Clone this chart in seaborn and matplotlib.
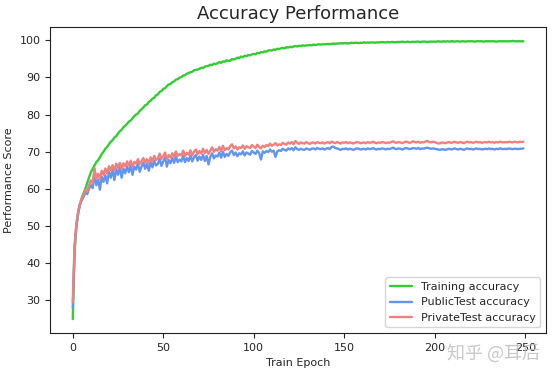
import numpy as np
import matplotlib
matplotlib.use("Agg")
import matplotlib.pyplot as plt
import seaborn as sns

# accuracy per epoch
training_acc = [
    25.0, 43.2, 49.8, 53.6, 55.9, 57.6, 58.9, 60.1, 61.6, 63.1,
    64.5, 65.4, 66.3, 67.2, 67.7, 68.5, 69.4, 70.0, 70.8, 71.3,
    72.0, 72.7, 73.1, 73.8, 74.2, 74.9, 75.5, 75.9, 76.6, 77.0,
    77.5, 78.1, 78.4, 79.0, 79.6, 80.0, 80.3, 81.0, 81.4, 81.9,
    82.5, 82.7, 83.4, 83.7, 84.3, 84.5, 85.2, 85.4, 86.1, 86.3,
    86.9, 87.1, 87.6, 88.1, 88.2, 88.7, 88.9, 89.4, 89.5, 89.9,
    90.1, 90.5, 90.6, 91.0, 91.1, 91.4, 91.5, 91.9, 92.0, 92.1,
    92.3, 92.6, 92.5, 92.9, 93.0, 93.1, 93.4, 93.3, 93.7, 93.6,
    93.8, 94.1, 93.9, 94.3, 94.2, 94.6, 94.4, 94.5, 94.9, 94.8,
    95.0, 95.3, 95.2, 95.6, 95.4, 95.8, 95.7, 96.0, 95.9, 96.2,
    96.3, 96.2, 96.6, 96.5, 96.8, 96.7, 97.0, 96.9, 97.2, 97.3,
    97.2, 97.5, 97.4, 97.7, 97.6, 97.8, 97.9, 97.8, 98.1, 98.0,
    98.2, 98.1, 98.3, 98.4, 98.3, 98.5, 98.4, 98.6, 98.5, 98.6,
    98.6, 98.7, 98.6, 98.8, 98.7, 98.8, 98.9, 98.8, 98.9, 98.9,
    98.9, 99.0, 98.9, 99.0, 99.1, 99.0, 99.1, 99.1, 99.2, 99.1,
    99.2, 99.2, 99.1, 99.2, 99.3, 99.2, 99.3, 99.3, 99.2, 99.3,
    99.3, 99.4, 99.3, 99.4, 99.3, 99.4, 99.4, 99.3, 99.4, 99.4,
    99.4, 99.5, 99.4, 99.4, 99.5, 99.4, 99.5, 99.5, 99.4, 99.5,
    99.5, 99.5, 99.6, 99.5, 99.5, 99.6, 99.5, 99.5, 99.6, 99.5,
    99.6, 99.6, 99.5, 99.6, 99.6, 99.6, 99.5, 99.6, 99.6, 99.6,
    99.6, 99.6, 99.7, 99.6, 99.6, 99.7, 99.6, 99.7, 99.6, 99.7,
    99.7, 99.6, 99.7, 99.7, 99.6, 99.7, 99.7, 99.6, 99.7, 99.7,
    99.7, 99.7, 99.6, 99.7, 99.7, 99.7, 99.7, 99.6, 99.7, 99.7,
    99.7, 99.7, 99.7, 99.7, 99.6, 99.7, 99.7, 99.7, 99.7, 99.7,
    99.7, 99.7, 99.7, 99.8, 99.7, 99.7, 99.7, 99.7, 99.7, 99.7,
]

public_acc = [
    28.0, 44.0, 50.2, 53.5, 55.8, 57.0, 57.9, 59.0, 58.6, 60.1,
    61.0, 60.2, 63.9, 61.0, 62.5, 59.8, 63.3, 61.9, 63.7, 61.5,
    64.6, 63.0, 65.1, 62.4, 65.3, 63.8, 65.8, 63.0, 65.5, 64.2,
    66.1, 64.5, 66.3, 63.8, 66.0, 65.2, 66.9, 64.6, 66.0, 67.1,
    65.4, 66.8, 64.9, 67.2, 65.8, 67.6, 66.3, 66.7, 68.1, 66.2,
    67.4, 68.5, 66.0, 67.8, 66.9, 68.3, 67.0, 68.8, 67.2, 67.9,
    67.4, 68.9, 67.2, 68.3, 67.5, 69.0, 67.4, 68.5, 69.1, 67.6,
    68.7, 67.8, 69.2, 67.5, 68.9, 66.6, 68.6, 69.6, 68.2, 69.0,
    68.7, 69.8, 68.4, 70.0, 68.6, 69.4, 68.9, 69.9, 70.3, 69.1,
    69.8, 68.8, 69.6, 69.3, 70.1, 69.0, 69.8, 69.5, 69.2, 70.2,
    69.8, 69.4, 70.3, 69.6, 67.9, 70.1, 69.7, 70.2, 69.9, 70.6,
    70.0, 70.3, 68.6, 70.1, 70.4, 70.2, 70.8, 70.5, 70.3, 70.9,
    70.6, 71.0, 70.4, 71.2, 70.7, 70.5, 70.8, 70.6, 70.5, 70.9,
    70.7, 70.5, 70.8, 70.9, 70.6, 71.0, 70.8, 70.7, 70.9, 70.6,
    70.8, 71.0, 70.7, 71.3, 71.4, 71.0, 70.9, 70.7, 70.5, 70.8,
    70.7, 70.9, 70.6, 70.8, 70.7, 70.5, 70.7, 70.9, 70.8, 70.6,
    70.7, 70.8, 70.6, 70.9, 70.7, 70.8, 71.0, 70.7, 70.6, 70.8,
    70.7, 70.9, 70.8, 70.6, 70.8, 70.7, 70.9, 71.1, 70.8, 70.7,
    70.9, 70.8, 70.6, 70.8, 71.0, 70.9, 70.7, 70.8, 71.0, 70.9,
    70.8, 71.0, 70.7, 70.9, 70.8, 71.0, 71.1, 70.9, 70.8, 70.9,
    70.8, 70.7, 70.6, 70.5, 70.7, 70.6, 70.5, 70.7, 70.8, 70.6,
    70.7, 70.9, 70.7, 70.6, 70.8, 70.7, 70.5, 70.7, 70.9, 70.7,
    70.8, 70.6, 70.7, 70.9, 70.7, 70.8, 70.6, 70.7, 70.8, 70.7,
    70.9, 70.7, 70.8, 70.6, 70.8, 70.7, 70.9, 70.8, 70.7, 70.8,
    70.7, 70.9, 70.8, 70.7, 70.8, 70.8, 70.7, 70.8, 70.8, 70.9,
]

private_acc = [
    29.5, 45.0, 50.8, 54.0, 56.2, 57.5, 58.4, 59.7, 59.3, 61.0,
    62.3, 61.5, 65.6, 62.8, 64.1, 62.6, 64.9, 63.8, 65.5, 64.2,
    66.1, 65.0, 66.4, 64.9, 66.8, 65.7, 67.0, 65.4, 66.9, 66.1,
    67.4, 66.3, 67.6, 66.0, 67.3, 66.8, 68.0, 66.7, 67.5, 68.3,
    67.1, 68.0, 66.9, 68.5, 67.4, 68.9, 67.8, 68.2, 69.5, 68.1,
    68.8, 69.8, 67.9, 69.1, 68.4, 69.6, 68.6, 70.1, 68.9, 69.4,
    69.0, 70.3, 68.8, 69.7, 69.2, 70.4, 69.0, 70.0, 70.6, 69.3,
    70.2, 69.5, 70.8, 69.6, 70.5, 69.4, 70.3, 71.2, 70.0, 70.7,
    70.3, 71.3, 70.1, 71.6, 70.4, 71.0, 70.6, 71.5, 72.0, 70.9,
    71.4, 70.6, 71.2, 71.0, 71.7, 70.8, 71.5, 71.2, 71.0, 71.8,
    71.4, 71.0, 71.9, 71.3, 70.9, 71.6, 71.3, 71.8, 71.5, 72.2,
    71.6, 71.9, 72.3, 71.7, 72.0, 71.8, 72.4, 72.1, 71.9, 72.5,
    72.2, 72.6, 72.0, 72.9, 72.4, 72.1, 72.5, 72.3, 72.2, 72.6,
    72.3, 72.1, 72.4, 72.5, 72.2, 72.6, 72.4, 72.3, 72.5, 72.2,
    72.4, 72.6, 72.3, 72.7, 72.5, 72.3, 72.6, 72.4, 72.2, 72.5,
    72.4, 72.6, 72.3, 72.5, 72.4, 72.2, 72.4, 72.6, 72.5, 72.3,
    72.4, 72.5, 72.3, 72.6, 72.4, 72.5, 72.7, 72.4, 72.3, 72.5,
    72.4, 72.6, 72.5, 72.3, 72.5, 72.4, 72.6, 72.8, 72.5, 72.4,
    72.6, 72.5, 72.3, 72.5, 72.7, 72.6, 72.4, 72.5, 72.8, 72.6,
    72.5, 72.7, 72.4, 72.6, 72.5, 72.8, 72.9, 72.6, 72.5, 72.7,
    72.6, 72.4, 72.2, 72.3, 72.5, 72.4, 72.3, 72.5, 72.6, 72.4,
    72.5, 72.7, 72.5, 72.4, 72.6, 72.5, 72.3, 72.5, 72.7, 72.5,
    72.6, 72.4, 72.5, 72.7, 72.5, 72.6, 72.4, 72.5, 72.6, 72.5,
    72.7, 72.5, 72.6, 72.4, 72.6, 72.5, 72.7, 72.6, 72.5, 72.6,
    72.5, 72.7, 72.6, 72.5, 72.7, 72.6, 72.5, 72.7, 72.6, 72.7,
]

epochs = np.arange(len(training_acc))

sns.set_style("ticks")
plt.rcParams['font.family'] = ['DejaVu Sans', 'Noto Sans CJK SC']

fig, ax = plt.subplots(figsize=(5.52, 3.75), dpi=100)
plt.subplots_adjust(left=0.091, right=0.989, top=0.928, bottom=0.112)

sns.lineplot(x=epochs, y=training_acc, color="limegreen", linewidth=1.7,
             label="Training accuracy", ax=ax)
sns.lineplot(x=epochs, y=public_acc, color="cornflowerblue", linewidth=1.7,
             label="PublicTest accuracy", ax=ax)
sns.lineplot(x=epochs, y=private_acc, color="lightcoral", linewidth=1.7,
             label="PrivateTest accuracy", ax=ax)

ax.set_title("Accuracy Performance", fontsize=13)
ax.set_xlabel("Train Epoch", fontsize=8)
ax.set_ylabel("Performance Score", fontsize=8)
ax.tick_params(labelsize=8, direction="out", length=3.5)
ax.set_xticks([0, 50, 100, 150, 200, 250])
ax.set_yticks([30, 40, 50, 60, 70, 80, 90, 100])
for s in ax.spines.values():
    s.set_color("#222222")
    s.set_linewidth(0.8)

ax.legend(loc="lower right", fontsize=8, frameon=True)

# watermark, lower right corner
fig.text(0.978, 0.058, "知乎 @耳后", ha="right", va="center", fontsize=13,
         color="#bbbbbb", alpha=0.8, family=["Noto Sans CJK SC", "DejaVu Sans"])

fig.savefig("out.png", dpi=100)
